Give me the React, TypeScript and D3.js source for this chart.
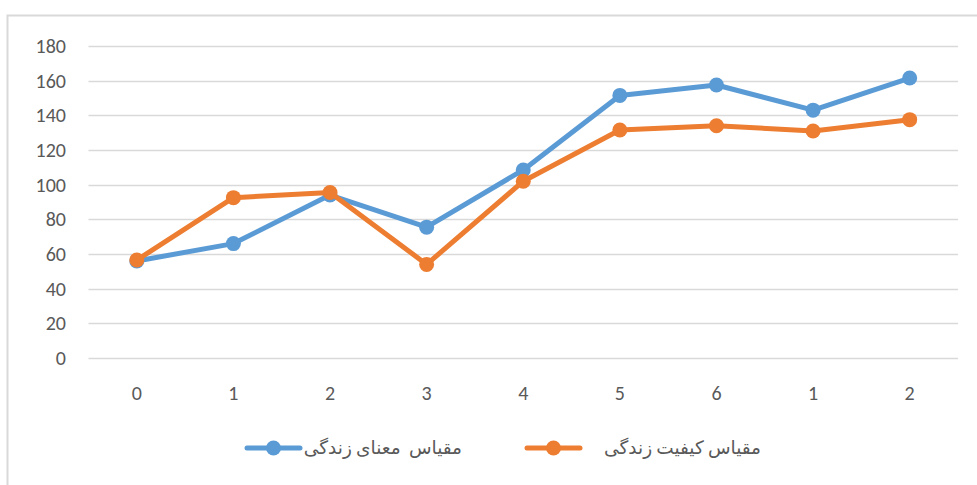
import React, { useEffect, useRef } from 'react';
import * as d3 from 'd3';

const categories = ['0', '1', '2', '3', '4', '5', '6', '1', '2'];
const meaningValues = [56, 66, 94, 75.5, 108.5, 151.5, 157.5, 143, 161.5];
const qualityValues = [56.5, 92.5, 95.5, 54, 102, 131.5, 134, 131, 137.5];
const yTicks = [0, 20, 40, 60, 80, 100, 120, 140, 160, 180];

const seriesNames = ['مقیاس  معنای زندگی', 'مقیاس کیفیت زندگی'];
const seriesColors = ['#5b9bd5', '#ed7d31'];

const WIDTH = 977;
const HEIGHT = 485;
const FONT = "Carlito, Calibri, 'Open Sans', 'DejaVu Sans', sans-serif";

const App: React.FC = () => {
  const svgRef = useRef<SVGSVGElement>(null);

  useEffect(() => {
    if (!svgRef.current) return;
    const svg = d3.select(svgRef.current);
    svg.selectAll('*').remove();

    // chart frame
    svg.append('rect')
      .attr('x', 7.5).attr('y', 15.5)
      .attr('width', WIDTH).attr('height', HEIGHT)
      .attr('fill', '#fff')
      .attr('stroke', '#d9d9d9')
      .attr('stroke-width', 2);

    const x = d3.scaleBand<number>()
      .domain(d3.range(categories.length))
      .range([88.5, 958]);

    const y = d3.scaleLinear()
      .domain([0, 180])
      .range([358, 46]);

    // grid + y labels
    const grid = svg.append('g');
    grid.selectAll('line')
      .data(yTicks)
      .join('line')
      .attr('x1', 88.5).attr('x2', 958)
      .attr('y1', d => Math.round(y(d)) + 0.5)
      .attr('y2', d => Math.round(y(d)) + 0.5)
      .attr('stroke', '#d9d9d9')
      .attr('stroke-width', 1.5);

    grid.selectAll('text')
      .data(yTicks)
      .join('text')
      .attr('x', 66)
      .attr('y', d => y(d))
      .attr('dy', '0.35em')
      .attr('text-anchor', 'end')
      .attr('font-family', FONT)
      .attr('font-size', 20)
      .attr('fill', '#595959')
      .text(d => d);

    // x labels
    svg.append('g').selectAll('text')
      .data(categories)
      .join('text')
      .attr('x', (_, i) => (x(i) || 0) + x.bandwidth() / 2)
      .attr('y', 400)
      .attr('text-anchor', 'middle')
      .attr('font-family', FONT)
      .attr('font-size', 20)
      .attr('fill', '#595959')
      .text(d => d);

    const cx = (i: number) => (x(i) || 0) + x.bandwidth() / 2;
    const line = d3.line<number>()
      .x((_, i) => cx(i))
      .y(d => y(d));

    // orange drawn last (on top), as in the reference
    [meaningValues, qualityValues].forEach((vals, s) => {
      const g = svg.append('g');
      g.append('path')
        .datum(vals)
        .attr('d', line)
        .attr('fill', 'none')
        .attr('stroke', seriesColors[s])
        .attr('stroke-width', 5)
        .attr('stroke-linejoin', 'round')
        .attr('stroke-linecap', 'round');
      g.selectAll('circle')
        .data(vals)
        .join('circle')
        .attr('cx', (_, i) => cx(i))
        .attr('cy', d => y(d))
        .attr('r', 7.5)
        .attr('fill', seriesColors[s]);
    });

    // legend
    const legendItems = [
      { x1: 247, x2: 300, textX: 462 },
      { x1: 527, x2: 580, textX: 761 },
    ];
    legendItems.forEach((it, s) => {
      const g = svg.append('g');
      g.append('line')
        .attr('x1', it.x1).attr('x2', it.x2)
        .attr('y1', 448).attr('y2', 448)
        .attr('stroke', seriesColors[s])
        .attr('stroke-width', 5)
        .attr('stroke-linecap', 'round');
      g.append('circle')
        .attr('cx', (it.x1 + it.x2) / 2)
        .attr('cy', 448)
        .attr('r', 7.5)
        .attr('fill', seriesColors[s]);
      g.append('text')
        .attr('x', it.textX)
        .attr('y', 448)
        .attr('dy', '0.35em')
        .attr('text-anchor', 'end')
        .attr('font-family', FONT)
        .attr('font-size', 18.5)
        .attr('fill', '#595959')
        .style('white-space', 'pre')
        .text(seriesNames[s]);
    });
  }, []);

  return (
    <svg
      ref={svgRef}
      width={WIDTH}
      height={HEIGHT}
      style={{ position: 'fixed', left: 0, top: 0, display: 'block', background: '#fff' }}
    />
  );
};

export default App;
